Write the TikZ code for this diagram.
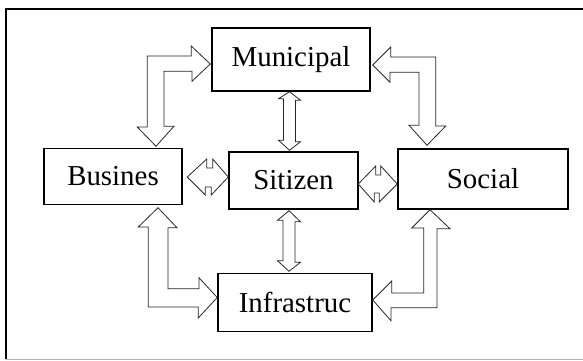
\documentclass[tikz,border=0pt]{standalone}
\usepackage{fontspec}
\setmainfont{Liberation Serif}
\usetikzlibrary{calc}

\tikzset{
  box/.style={draw, line width=1.5bp, minimum width=#1, inner sep=0pt,
    font=\fontsize{29}{31}\selectfont},
  blockarrow/.style={draw=black!85, line width=0.8bp, fill=white, line join=miter}
}

\begin{document}
\begin{tikzpicture}[x=1bp,y=-1bp]
\useasboundingbox (0,0) rectangle (583,360);

% frame
\draw[line width=2bp] (6,359) -- (6,9) -- (583,9);
\draw[black!30, line width=1bp] (6,359) -- (583,359);

% boxes
\node[box=158bp, minimum height=63bp] (mun) at (291,59.5) {Municipal};
\node[box=138bp, minimum height=56bp] (bus) at (113,176.5) {Busines};
\node[box=129bp, minimum height=57bp] (sit) at (293.5,180.5) {Sitizen};
\node[box=170bp, minimum height=60bp] (soc) at (483,179) {Social};
\node[box=154bp, minimum height=58bp] (inf) at (295,302.5) {Infrastruc};

% Municipal - Busines
\draw[blockarrow] ($(mun.west)+(-1,4.5)$) -- ++(-19,-18) -- ++(0,10) -- ++(-44,0)
  -- ++(0,71) -- ++(-10,0) -- ($(bus.north)+(43,-1.5)$) -- ++(18,-20) -- ++(-10,0)
  -- ++(0,-55) -- ++(28,0) -- ++(0,10) -- cycle;

% Municipal - Social
\draw[blockarrow] ($(mun.east)+(2,5.5)$) -- ++(18,-18) -- ++(0,10) -- ++(45,0)
  -- ++(0,69) -- ++(10,0) -- ($(soc.north)+(-56,-3)$) -- ++(-18,-20) -- ++(10,0)
  -- ++(0,-53) -- ++(-29,0) -- ++(0,10) -- cycle;

% Busines - Infrastruc
\draw[blockarrow] ($(bus.south)+(45,2.5)$) -- ++(19,20) -- ++(-9,0) -- ++(0,61)
  -- ++(31,0) -- ++(0,-11) -- ($(inf.west)+(0,-5)$) -- ++(-19,20.5) -- ++(0,-11)
  -- ++(-50,0) -- ++(0,-80) -- ++(-10,0) -- cycle;

% Social - Infrastruc
\draw[blockarrow] ($(soc.south)+(-53,0)$) -- ++(20,19) -- ++(-13,0) -- ++(0,79)
  -- ++(-46,0) -- ++(0,13) -- ($(inf.east)+(0,-2.5)$) -- ++(19,-19) -- ++(0,12)
  -- ++(32,0) -- ++(0,-65) -- ++(-12,0) -- cycle;

% Municipal - Sitizen
\draw[blockarrow] ($(mun.south)+(-1.5,0)$) -- ++(11,8.5) -- ++(-5,0) -- ++(0,41.5)
  -- ++(5,0) -- ($(sit.north)+(-4,-1)$) -- ++(-11,-10) -- ++(5,0) -- ++(0,-41.5)
  -- ++(-5,0) -- cycle;

% Sitizen - Infrastruc
\draw[blockarrow] ($(sit.south)+(-4.5,1)$) -- ++(11.5,11) -- ++(-5.5,0) -- ++(0,40.5)
  -- ++(5.5,0) -- ($(inf.north)+(-6,-1.5)$) -- ++(-11.5,-10.5) -- ++(5.5,0)
  -- ++(0,-40.5) -- ++(-5.5,0) -- cycle;

% Busines - Sitizen
\draw[blockarrow] ($(bus.east)+(4.5,0.5)$) -- ++(19.5,-18) -- ++(0,9) -- ++(6,0)
  -- ++(0,-9) -- ($(sit.west)+(0,-3.5)$) -- ++(-17,18) -- ++(0,-8) -- ++(-6,0)
  -- ++(0,8) -- cycle;

% Sitizen - Social
\draw[blockarrow] ($(sit.east)+(-0.5,3.5)$) -- ++(17.5,-18) -- ++(0,9) -- ++(5,0)
  -- ++(0,-9) -- ($(soc.west)+(0,5)$) -- ++(-18,18) -- ++(0,-9) -- ++(-5,0)
  -- ++(0,9) -- cycle;

\end{tikzpicture}
\end{document}
